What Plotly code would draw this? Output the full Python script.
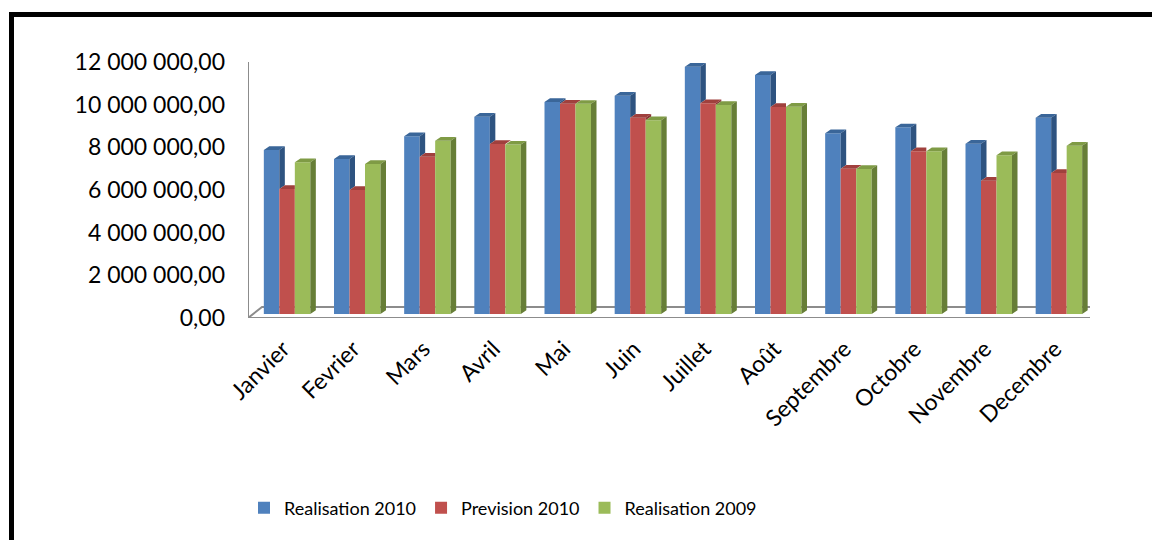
import plotly.graph_objects as go

# Monthly figures (euros)
months = ["Janvier", "Fevrier", "Mars", "Avril", "Mai", "Juin",
          "Juillet", "Août", "Septembre", "Octobre", "Novembre", "Decembre"]
realisation_2010 = [7690000, 7270000, 8330000, 9250000, 9940000, 10230000,
                    11590000, 11200000, 8470000, 8750000, 7980000, 9200000]
prevision_2010 = [5860000, 5810000, 7370000, 7970000, 9860000, 9200000,
                  9880000, 9700000, 6810000, 7630000, 6250000, 6610000]
realisation_2009 = [7110000, 7030000, 8120000, 7940000, 9850000, 9080000,
                    9800000, 9720000, 6800000, 7630000, 7440000, 7890000]

series_names = ["Realisation 2010", "Prevision 2010", "Realisation 2009"]
y_tick_values = [0, 2000000, 4000000, 6000000, 8000000, 10000000, 12000000]
y_tick_labels = ["0,00", "2 000 000,00", "4 000 000,00", "6 000 000,00",
                 "8 000 000,00", "10 000 000,00", "12 000 000,00"]

# Face colours: front, top, side
palette = [
    ("#4F81BD", "#3A6699", "#2E5380"),
    ("#C0504D", "#A0403D", "#8A3533"),
    ("#9BBB59", "#7F9B45", "#677E37"),
]

# ---- page geometry (pixels) ----
W, H = 1152, 540
L, R, T, B = 248, 62, 62, 222
PW = W - L - R          # plot width
PH = H - T - B          # plot height
Y_MAX = 12000000
N = len(months)
PX_X = PW / N           # pixels per category unit
PX_Y = PH / Y_MAX       # pixels per euro

def ux(px):
    return px / PX_X

def uy(px):
    return px / PX_Y

# pseudo-3D projection offsets
BAR_W = ux(15.5)        # width of one column
SHIFT_X = ux(4.0)       # columns sit a little behind the front edge
SHIFT_Y = uy(4.0)
DEPTH_X = ux(5.5)       # visible depth of a column
DEPTH_Y = uy(3.7)
FLOOR_X = ux(14.0)      # depth of the floor
FLOOR_Y = uy(11.0)

all_series = [realisation_2010, prevision_2010, realisation_2009]

fig = go.Figure()

# front faces
for k, (name, vals) in enumerate(zip(series_names, all_series)):
    fig.add_trace(go.Bar(
        x=[i + SHIFT_X for i in range(N)],
        y=vals,
        base=SHIFT_Y,
        width=BAR_W,
        offset=(k - 1.5) * BAR_W,
        name=name,
        marker=dict(color=palette[k][0], line=dict(width=0)),
        hoverinfo="skip",
    ))

# top and side faces, clipped where the next column hides them
for k, vals in enumerate(all_series):
    nxt = all_series[k + 1] if k + 1 < len(all_series) else None
    tx, ty, sx, sy = [], [], [], []
    for i, v in enumerate(vals):
        xl = i + SHIFT_X + (k - 1.5) * BAR_W
        xr = xl + BAR_W
        b = SHIFT_Y
        t = SHIFT_Y + v
        covered = nxt is not None and (SHIFT_Y + nxt[i]) >= t
        if covered:
            pts = [(xl, t), (xr, t), (xr, t + DEPTH_Y), (xl + DEPTH_X, t + DEPTH_Y)]
        else:
            pts = [(xl, t), (xr, t), (xr + DEPTH_X, t + DEPTH_Y), (xl + DEPTH_X, t + DEPTH_Y)]
        for px_, py_ in pts + [pts[0]]:
            tx.append(px_)
            ty.append(py_)
        tx.append(None)
        ty.append(None)
        if nxt is None:
            side = [(xr, b), (xr + DEPTH_X, b + DEPTH_Y), (xr + DEPTH_X, t + DEPTH_Y), (xr, t)]
        elif not covered:
            r = SHIFT_Y + nxt[i]
            side = [(xr, r), (xr + DEPTH_X, r + DEPTH_Y), (xr + DEPTH_X, t + DEPTH_Y), (xr, t)]
        else:
            side = None
        if side:
            for px_, py_ in side + [side[0]]:
                sx.append(px_)
                sy.append(py_)
            sx.append(None)
            sy.append(None)
    fig.add_trace(go.Scatter(x=tx, y=ty, mode="lines", fill="toself",
                             fillcolor=palette[k][1], line=dict(width=0),
                             showlegend=False, hoverinfo="skip"))
    fig.add_trace(go.Scatter(x=sx, y=sy, mode="lines", fill="toself",
                             fillcolor=palette[k][2], line=dict(width=0),
                             showlegend=False, hoverinfo="skip"))

# floor and vertical axis edge
x0, x1 = -0.5, N - 0.5
grey = "#8C8C8C"
shapes = [
    dict(type="path", layer="below", line=dict(color=grey, width=2),
         fillcolor="rgba(0,0,0,0)",
         path=f"M{x0},0 L{x1},0 L{x1 + FLOOR_X},{FLOOR_Y} L{x0 + FLOOR_X},{FLOOR_Y} Z"),
    dict(type="line", layer="below", x0=x0, x1=x1, y0=-uy(2.5), y1=-uy(2.5),
         line=dict(color="#DADADA", width=2)),
    dict(type="line", layer="below", x0=x0, x1=x0, y0=0, y1=Y_MAX,
         line=dict(color=grey, width=2)),
]
for s in shapes:
    s["xref"] = "x"
    s["yref"] = "y"

# outer chart border (extends past the right and bottom edges of the page)
def paper_x(px):
    return (px - L) / PW

def paper_y(py):
    return (H - B - py) / PH

shapes.append(dict(type="rect", xref="paper", yref="paper",
                   x0=paper_x(11.5), x1=paper_x(W + 20),
                   y0=paper_y(14.5), y1=paper_y(H + 20),
                   line=dict(color="black", width=5), layer="above"))

fig.update_layout(
    width=W, height=H,
    margin=dict(l=L, r=R, t=T, b=B, pad=0),
    paper_bgcolor="white", plot_bgcolor="white",
    barmode="overlay",
    font=dict(family="Lato, 'Open Sans', sans-serif", color="black"),
    shapes=shapes,
    showlegend=True,
    legend=dict(orientation="h", x=paper_x(244), xanchor="left",
                y=paper_y(508), yanchor="middle",
                font=dict(size=18), itemwidth=30,
                traceorder="normal"),
    xaxis=dict(range=[x0, x1], tickvals=list(range(N)), ticktext=months,
               tickangle=-45, showgrid=False, zeroline=False, showline=False,
               ticks="", tickfont=dict(size=23), ticklabelstandoff=12),
    yaxis=dict(range=[0, Y_MAX], tickvals=y_tick_values, ticktext=y_tick_labels,
               showgrid=False, zeroline=False, showline=False, ticks="",
               tickfont=dict(size=23), ticklabelstandoff=22),
)

fig.write_html("out.html")
